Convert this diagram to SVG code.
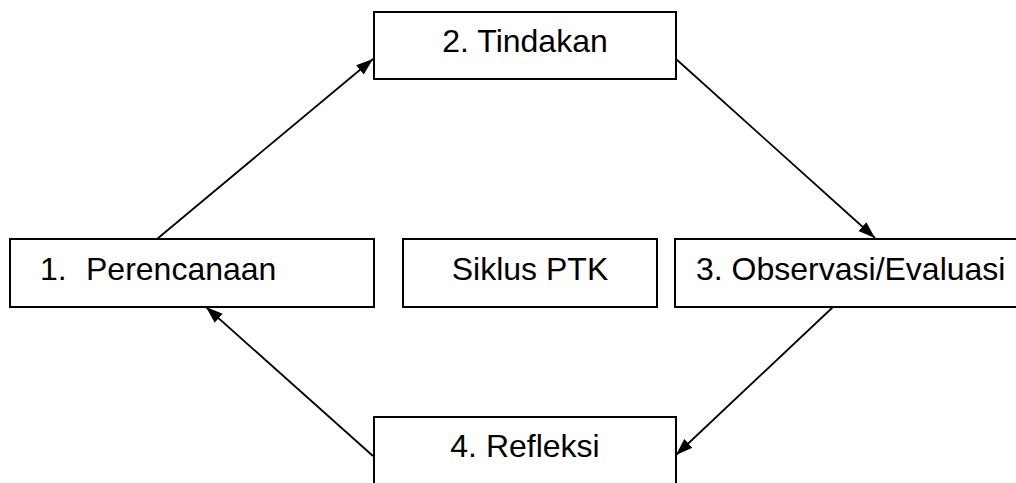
<svg xmlns="http://www.w3.org/2000/svg" width="1016" height="483" viewBox="0 0 1016 483">
  <style>
    .box { fill: #ffffff; stroke: #000000; stroke-width: 2; }
    .lbl { font-family: "Liberation Sans", Arial, sans-serif; font-size: 32px; fill: #000000; }
    .conn { stroke: #000000; stroke-width: 1.8; fill: none; marker-end: url(#arrow); }
  </style>
  <defs>
    <marker id="arrow" markerUnits="userSpaceOnUse" markerWidth="18" markerHeight="14" viewBox="0 0 18 14" refX="17" refY="7" orient="auto">
      <path d="M0,1 L17,7 L0,13 z" fill="#000000"/>
    </marker>
  </defs>
  <rect width="1016" height="483" fill="#ffffff"/>
  <g id="connectors">
    <line class="conn" x1="157" y1="239" x2="373" y2="59"/>
    <line class="conn" x1="676" y1="59" x2="875" y2="238"/>
    <line class="conn" x1="833" y1="307" x2="676" y2="455"/>
    <line class="conn" x1="373" y1="456" x2="206" y2="307"/>
  </g>
  <g id="node-tindakan">
    <rect class="box" x="374" y="12" width="302" height="67"/>
    <text class="lbl" x="525" y="52" text-anchor="middle">2. Tindakan</text>
  </g>
  <g id="node-perencanaan">
    <rect class="box" x="10" y="239" width="364" height="68"/>
    <text class="lbl" y="280"><tspan x="40">1.</tspan><tspan x="86">Perencanaan</tspan></text>
  </g>
  <g id="node-siklus">
    <rect class="box" x="403" y="239" width="254" height="68"/>
    <text class="lbl" x="530" y="280" text-anchor="middle">Siklus PTK</text>
  </g>
  <g id="node-observasi">
    <rect class="box" x="675" y="239" width="360" height="68"/>
    <text class="lbl" x="696" y="280">3. Observasi/Evaluasi</text>
  </g>
  <g id="node-refleksi">
    <rect class="box" x="374" y="417" width="302" height="90"/>
    <text class="lbl" x="525" y="457" text-anchor="middle">4. Refleksi</text>
  </g>
</svg>
